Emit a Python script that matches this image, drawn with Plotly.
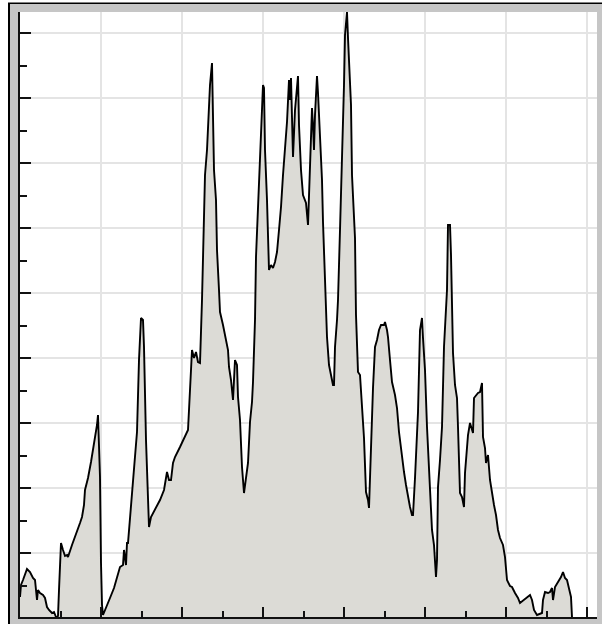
import plotly.graph_objects as go

# Histogram-like profile: bin position and count (arbitrary units)
bins = [0, 1, 3, 5, 7, 10, 13, 15, 16, 17, 18, 20, 23, 25, 27, 29, 32, 34, 36, 38,
        39, 41, 43, 45, 47, 48, 52, 56, 60, 62, 64, 65, 68, 71, 73, 75, 77, 78, 79, 80,
        81, 82, 83, 86, 90, 94, 98, 100, 103, 104, 106, 107, 108, 110, 113, 115, 117, 119, 121, 123,
        124, 126, 128, 129, 131, 135, 140, 144, 147, 149, 151, 153, 155, 160, 165, 168, 170, 172, 174, 176,
        178, 180, 182, 183, 184, 185, 187, 188, 189, 190, 192, 193, 194, 196, 197, 199, 200, 203, 206, 208,
        209, 211, 213, 215, 217, 218, 220, 222, 224, 226, 228, 230, 232, 233, 235, 236, 238, 240, 242, 243,
        244, 245, 247, 248, 249, 251, 253, 255, 257, 259, 261, 263, 265, 267, 269, 270, 271, 272, 273, 275,
        277, 278, 279, 281, 283, 286, 288, 289, 290, 292, 293, 294, 295, 297, 298, 300, 302, 303, 305, 307,
        309, 311, 313, 314, 315, 317, 318, 320, 322, 323, 324, 325, 327, 328, 330, 331, 332, 334, 335, 336,
        338, 340, 342, 344, 346, 348, 349, 350, 352, 353, 355, 357, 359, 361, 364, 365, 367, 368, 370, 372,
        375, 377, 379, 382, 384, 386, 388, 390, 392, 393, 395, 397, 398, 400, 402, 403, 405, 407, 409, 410,
        412, 414, 416, 417, 418, 420, 422, 424, 426, 427, 428, 430, 431, 432, 433, 435, 437, 438, 440, 442,
        444, 445, 447, 448, 450, 452, 453, 454, 456, 458, 460, 462, 463, 465, 466, 468, 470, 472, 474, 476,
        478, 480, 483, 485, 487, 490, 492, 495, 498, 500, 504, 507, 510, 512, 514, 517, 522, 523, 525, 528,
        530, 532, 533, 535, 538, 541, 543, 545, 547, 549, 551, 552, 553, 577]
counts = [21, 33, 38, 43, 49, 46, 40, 38, 28, 18, 28, 25, 23, 20, 11, 8, 5, 6, 1, 2,
          28, 75, 68, 62, 63, 61, 73, 83, 95, 101, 113, 128, 140, 156, 168, 181, 193, 203, 178, 141,
          55, 13, 3, 11, 20, 30, 43, 51, 53, 68, 53, 75, 75, 98, 141, 163, 186, 258, 300, 298,
          271, 178, 118, 91, 101, 108, 118, 128, 146, 138, 138, 155, 161, 171, 181, 188, 228, 268, 260, 266,
          256, 255, 318, 368, 418, 443, 468, 493, 508, 533, 555, 503, 448, 418, 368, 328, 306, 293, 278, 268,
          251, 238, 218, 258, 253, 221, 198, 151, 125, 138, 155, 196, 216, 236, 298, 361, 408, 468, 518, 533,
          530, 468, 418, 378, 348, 353, 350, 356, 366, 388, 411, 443, 468, 496, 538, 518, 540, 496, 461, 508,
          533, 542, 493, 448, 423, 415, 393, 418, 458, 510, 493, 468, 503, 542, 525, 478, 438, 396, 338, 281,
          253, 243, 233, 233, 271, 298, 318, 388, 450, 498, 533, 583, 606, 580, 538, 513, 443, 408, 380, 303,
          246, 243, 216, 180, 126, 118, 110, 143, 188, 230, 271, 278, 288, 293, 293, 296, 288, 281, 258, 236,
          223, 210, 186, 160, 146, 133, 120, 111, 103, 103, 140, 178, 206, 288, 300, 280, 248, 191, 148, 115,
          88, 73, 41, 58, 131, 158, 191, 271, 318, 328, 393, 393, 363, 318, 265, 233, 220, 191, 125, 121,
          111, 145, 178, 183, 195, 188, 185, 220, 223, 225, 226, 235, 181, 170, 155, 163, 138, 123, 113, 103,
          88, 80, 73, 61, 38, 32, 31, 25, 20, 15, 18, 21, 23, 18, 8, 3, 5, 18, 26, 25,
          26, 30, 18, 31, 36, 41, 46, 40, 38, 28, 21, 1, 0, 0]

fig = go.Figure()
fig.add_trace(go.Scatter(
    x=bins, y=counts, mode="lines", fill="tozeroy",
    fillcolor="#dcdbd6", line=dict(color="#000000", width=1.9),
    hoverinfo="skip", showlegend=False,
))

axis_common = dict(
    showline=True, linecolor="#111111", linewidth=2,
    showgrid=True, gridcolor="#e4e4e4", gridwidth=2,
    zeroline=False, showticklabels=False,
    ticks="inside", tickcolor="#111111", tickwidth=2,
    fixedrange=True,
)

fig.update_xaxes(
    range=[0, 577], tick0=0, dtick=81, ticklen=10,
    minor=dict(ticks="inside", ticklen=6, tickcolor="#111111", tickwidth=2,
               tick0=0, dtick=40.5, showgrid=False),
    **axis_common,
)
fig.update_yaxes(
    range=[1, 606], tick0=0, dtick=65, ticklen=11,
    minor=dict(ticks="inside", ticklen=7, tickcolor="#111111", tickwidth=2,
               tick0=0, dtick=32.5, showgrid=False),
    **axis_common,
)

# sunken frame decoration (white outer margin + black edge on left/top)
fig.update_layout(
    width=602, height=624,
    margin=dict(l=20, r=5, t=12, b=7, pad=0),
    paper_bgcolor="#c6c6c6", plot_bgcolor="white",
    shapes=[
        dict(type="rect", xref="paper", yref="paper", xsizemode="pixel", xanchor=0,
             x0=-21, x1=-11, y0=-0.05, y1=1.1, fillcolor="white", line_width=0, layer="below"),
        dict(type="rect", xref="paper", yref="paper", ysizemode="pixel", yanchor=1,
             y0=9, y1=14, x0=-0.1, x1=1.1, fillcolor="white", line_width=0, layer="below"),
        dict(type="rect", xref="paper", yref="paper", xsizemode="pixel", xanchor=0,
             ysizemode="pixel", yanchor=1,
             x0=-12, x1=-10, y0=-620, y1=9, fillcolor="black", line_width=0, layer="below"),
        dict(type="rect", xref="paper", yref="paper", xsizemode="pixel", xanchor=0,
             ysizemode="pixel", yanchor=1,
             x0=-12, x1=600, y0=8, y1=9.5, fillcolor="black", line_width=0, layer="below"),
    ],
)

fig.write_html(
    "out.html",
    config={"displayModeBar": False, "staticPlot": True},
    post_script="document.body.style.margin='0';document.body.style.overflow='hidden';",
)
